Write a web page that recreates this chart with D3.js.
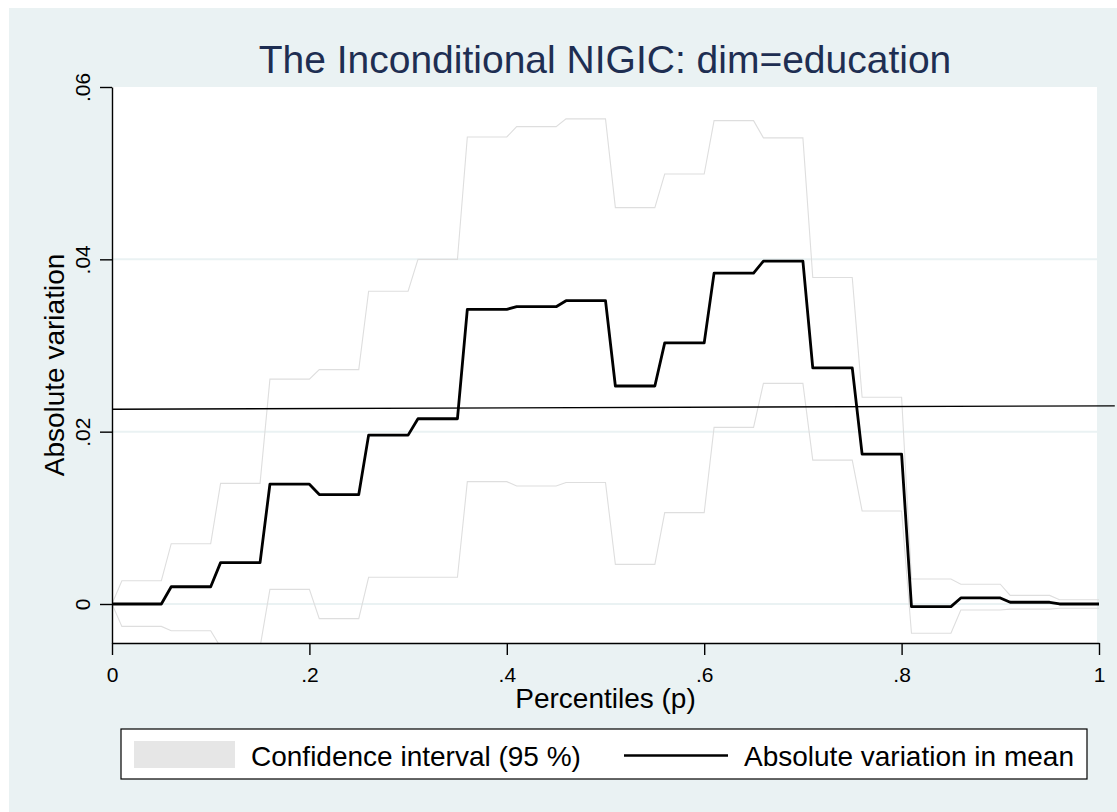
<!DOCTYPE html>
<html>
<head>
<meta charset="utf-8">
<script src="https://cdn.jsdelivr.net/npm/d3@7"></script>
<style>
  body { margin: 0; background: #fff; }
  svg text { font-family: "Liberation Sans", Arial, sans-serif; }
</style>
</head>
<body>
<svg id="chart" width="1117" height="812"></svg>
<script>
// percentile blocks (each block is flat from start to end)
const blockStart = [0, 0.01, 0.06, 0.11, 0.16, 0.21, 0.26, 0.31, 0.36, 0.41, 0.46, 0.51, 0.56, 0.61, 0.66, 0.71, 0.76, 0.81, 0.86, 0.91, 0.96];
const blockEnd   = [0, 0.05, 0.10, 0.15, 0.20, 0.25, 0.30, 0.35, 0.40, 0.45, 0.50, 0.55, 0.60, 0.65, 0.70, 0.75, 0.80, 0.85, 0.90, 0.95, 1.00];

// absolute variation in mean
const meanVals = [0, 0, 0.0020, 0.0048, 0.0139, 0.0127, 0.0196, 0.0215, 0.0342, 0.0345, 0.0352, 0.0253, 0.0303, 0.0384, 0.0398, 0.0274, 0.0174, -0.0003, 0.0007, 0.0002, 0.0000];
// 95% confidence interval
const ciUpper = [0, 0.0027, 0.0070, 0.0140, 0.0261, 0.0272, 0.0363, 0.0400, 0.0542, 0.0554, 0.0563, 0.0460, 0.0499, 0.0561, 0.0541, 0.0379, 0.0240, 0.0029, 0.0023, 0.0010, 0.0005];
const ciLower = [0, -0.0026, -0.0031, -0.0050, 0.0017, -0.0017, 0.0031, 0.0031, 0.0142, 0.0137, 0.0141, 0.0046, 0.0106, 0.0205, 0.0256, 0.0167, 0.0108, -0.0034, -0.0007, -0.0006, -0.0005];

// reference line drawn across the plot
const refP = [0, 1.016];
const refVals = [0.0226, 0.0230];

const xTicks = [0, 0.2, 0.4, 0.6, 0.8, 1];
const yTicks = [0, 0.02, 0.04, 0.06];

const titleText = "The Inconditional NIGIC: dim=education";
const xTitle = "Percentiles (p)";
const yTitle = "Absolute variation";
const legendLabels = ["Confidence interval (95 %)", "Absolute variation in mean"];

const bg = "#eaf2f3";
const svg = d3.select("#chart");

svg.append("rect").attr("x", 9).attr("y", 8).attr("width", 1117 - 9).attr("height", 812 - 8).attr("fill", bg);

const x = d3.scaleLinear().domain([0, 1]).range([112, 1099]);
const y = d3.scaleLinear().domain([-0.004527, 0.06]).range([643, 87]);

// plot region
svg.append("rect").attr("x", 112).attr("y", 87).attr("width", 1097 - 112).attr("height", 643 - 87).attr("fill", "#fff");

// gridlines
svg.append("g").selectAll("line")
  .data(yTicks.slice(0, 3))
  .join("line")
  .attr("x1", 112).attr("x2", 1097)
  .attr("y1", d => y(d)).attr("y2", d => y(d))
  .attr("stroke", bg).attr("stroke-width", 2);

svg.append("clipPath").attr("id", "clip")
  .append("rect").attr("x", 112).attr("y", 87).attr("width", 1099 - 112 + 2).attr("height", 643 - 87);

function steps(vals) {
  let pts = [];
  blockStart.forEach((s, i) => {
    pts.push([s, vals[i]]);
    if (blockEnd[i] !== s) pts.push([blockEnd[i], vals[i]]);
  });
  return pts;
}

const line = d3.line().x(d => x(d[0])).y(d => y(d[1]));
const plot = svg.append("g").attr("clip-path", "url(#clip)");

plot.append("path").attr("d", line(steps(ciUpper)))
  .attr("fill", "none").attr("stroke", "#dedede").attr("stroke-width", 1.1);
plot.append("path").attr("d", line(steps(ciLower)))
  .attr("fill", "none").attr("stroke", "#dedede").attr("stroke-width", 1.1);

svg.append("path").attr("d", line(refP.map((p, i) => [p, refVals[i]])))
  .attr("fill", "none").attr("stroke", "#000").attr("stroke-width", 1.3);

plot.append("path").attr("d", line(steps(meanVals)))
  .attr("fill", "none").attr("stroke", "#000").attr("stroke-width", 2.8)
  .attr("stroke-linejoin", "round");

// axes
const fmt = d => d === 0 ? "0" : d === 1 ? "1" : d3.format(".2~f")(d).replace(/^0/, "");

const yAxis = svg.append("g").attr("transform", "translate(112,0)")
  .call(d3.axisLeft(y).tickValues(yTicks).tickFormat(fmt).tickSize(12).tickSizeOuter(0));
yAxis.selectAll("text")
  .attr("x", 0).attr("y", -22).attr("dy", 0)
  .attr("text-anchor", "middle").attr("transform", "rotate(-90)")
  .attr("font-size", 21).attr("fill", "#000");

const xAxis = svg.append("g").attr("transform", "translate(0,643)")
  .call(d3.axisBottom(x).tickValues(xTicks).tickFormat(fmt).tickSize(12).tickSizeOuter(0));
xAxis.selectAll("text")
  .attr("y", 39).attr("dy", 0)
  .attr("font-size", 21).attr("fill", "#000");

svg.selectAll(".domain, .tick line").attr("stroke", "#000").attr("stroke-width", 1.4);

// titles
svg.append("text").attr("x", 605).attr("y", 73).attr("text-anchor", "middle")
  .attr("font-size", 39).attr("fill", "#1e2e52").text(titleText);
svg.append("text").attr("x", 605.5).attr("y", 708).attr("text-anchor", "middle")
  .attr("font-size", 28).attr("fill", "#000").text(xTitle);
svg.append("text").attr("transform", "translate(64,365) rotate(-90)").attr("text-anchor", "middle")
  .attr("font-size", 28).attr("fill", "#000").text(yTitle);

// legend
const lg = svg.append("g");
lg.append("rect").attr("x", 121).attr("y", 729).attr("width", 1087 - 121).attr("height", 50)
  .attr("fill", "#fff").attr("stroke", "#000").attr("stroke-width", 1.2);
lg.append("rect").attr("x", 134).attr("y", 741).attr("width", 101).attr("height", 27).attr("fill", "#e6e6e6");
lg.append("text").attr("x", 251).attr("y", 766).attr("font-size", 28).text(legendLabels[0]);
lg.append("line").attr("x1", 624).attr("x2", 728).attr("y1", 755.5).attr("y2", 755.5)
  .attr("stroke", "#000").attr("stroke-width", 2.6);
lg.append("text").attr("x", 744).attr("y", 766).attr("font-size", 28).text(legendLabels[1]);
</script>
</body>
</html>
